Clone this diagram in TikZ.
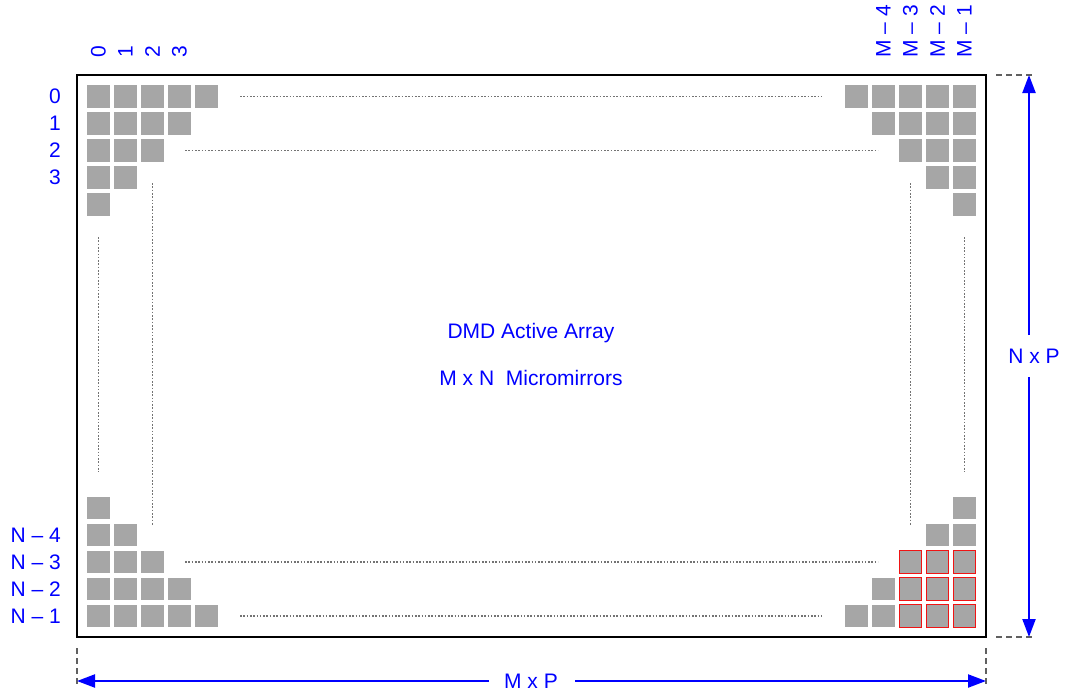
\documentclass[tikz,border=0pt]{standalone}
\usepackage{fontspec}
\setmainfont{Liberation Sans}
\usetikzlibrary{arrows.meta}
\definecolor{dmdblue}{RGB}{0,0,255}
\definecolor{mirrorgray}{RGB}{166,166,166}
\definecolor{dotgray}{RGB}{115,115,115}
\definecolor{extgray}{RGB}{96,96,96}
\definecolor{mred}{RGB}{240,20,20}
\begin{document}
\begin{tikzpicture}[x=1pt,y=-1pt,
  mirror/.style={fill=mirrorgray, draw=none, minimum size=22.5pt, inner sep=0pt, outer sep=0pt},
  redframe/.style={draw=mred, line width=1.1pt},
  lbl/.style={text=dmdblue, font=\fontsize{21}{25}\selectfont, inner sep=0pt},
  dots/.style={dotgray, line width=1.6pt, dash pattern=on 1.6pt off 1.7pt},
  ext/.style={extgray, line width=1.5pt, dash pattern=on 6pt off 4pt},
  dimarrow/.style={dmdblue, line width=2.2pt, -{Triangle[length=18pt,width=13pt]}},
]
\useasboundingbox (0,0) rectangle (1065,691);

% array outline
\node[draw, line width=2.5pt, minimum width=909pt, minimum height=562pt, inner sep=0pt] (array) at (531.5,356) {};

% mirrors
\foreach \r in {0,...,4} {
  \pgfmathtruncatemacro\n{4-\r}
  \foreach \c in {0,...,\n} {
    \node[mirror] (tl-\r-\c) at ({98.5+27*\c},{96.5+27*\r}) {};
    \node[mirror] (tr-\r-\c) at ({964.5-27*\c},{96.5+27*\r}) {};
    \node[mirror] (bl-\r-\c) at ({98.5+27*\c},{616-27*\r}) {};
    \node[mirror] (br-\r-\c) at ({964.5-27*\c},{616-27*\r}) {};
  }
}
\foreach \r in {0,1,2} {
  \foreach \c in {0,1,2} {
    \draw[redframe] (br-\r-\c.south west) rectangle (br-\r-\c.north east);
  }
}

% dotted continuation lines
\draw[dots] (240,96.5) -- (822,96.5);
\draw[dots] (185,150.5) -- (878,150.5);
\draw[dots] (185,562) -- (878,562);
\draw[dots] (240,616) -- (822,616);
\draw[dots] (98.5,237) -- (98.5,472);
\draw[dots] (152.5,183) -- (152.5,526);
\draw[dots] (910.5,183) -- (910.5,526);
\draw[dots] (964.5,237) -- (964.5,472);

% row and column labels
\foreach \i in {0,...,3} {
  \node[lbl, anchor=east] (row\i) at (61,{96.5+27*\i}) {\i};
  \node[lbl, rotate=90, anchor=west] (col\i) at ({98.5+27*\i},58) {\i};
}
\foreach \k in {1,...,4} {
  \node[lbl, anchor=east] (rowN\k) at (61,{616-27*(\k-1)}) {N – \k};
  \node[lbl, rotate=90, anchor=west] (colM\k) at ({964.5-27*(\k-1)},58) {M – \k};
}

% center text
\node[lbl] (title) at (531,333) {DMD Active Array};
\node[lbl] (size) at (531,378) {M x N\ \ Micromirrors};

% extension lines
\coordinate (e1a) at (996,75);  \coordinate (e1b) at (1034,75);
\coordinate (e2a) at (996,637); \coordinate (e2b) at (1034,637);
\coordinate (e3a) at (77,648);  \coordinate (e3b) at (77,686);
\coordinate (e4a) at (986,648); \coordinate (e4b) at (986,686);
\draw[ext] (e1a) -- (e1b);
\draw[ext] (e2a) -- (e2b);
\draw[ext] (e3a) -- (e3b);
\draw[ext] (e4a) -- (e4b);

% vertical dimension
\node[lbl] (nxp) at (1034,356) {N x P};
\coordinate (vt) at (1029,75);  \coordinate (vb) at (1029,637);
\coordinate (vg1) at (1029,335); \coordinate (vg2) at (1029,377);
\draw[dimarrow] (vg1) -- (vt);
\draw[dimarrow] (vg2) -- (vb);

% horizontal dimension
\node[lbl] (mxp) at (531,681) {M x P};
\coordinate (hl) at (77,681);  \coordinate (hr) at (986,681);
\coordinate (hg1) at (489,681); \coordinate (hg2) at (575,681);
\draw[dimarrow] (hg1) -- (hl);
\draw[dimarrow] (hg2) -- (hr);
\end{tikzpicture}
\end{document}
